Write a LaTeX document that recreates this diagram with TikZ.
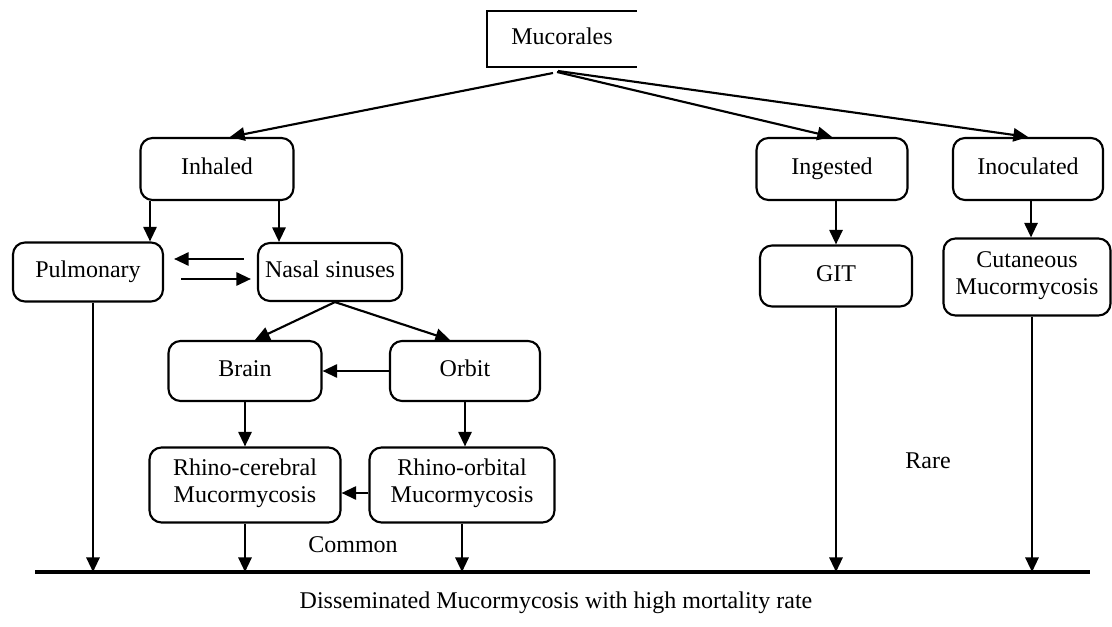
\documentclass[tikz,border=0pt]{standalone}
\usepackage{fontspec}
\setmainfont{Liberation Serif}
\usepackage{tikz}
\usetikzlibrary{shapes,arrows.meta}

\tikzset{%
  box/.style={draw, line width=1.6pt, rounded corners=9pt, align=center,
    inner sep=2pt, font=\fontsize{18}{20}\selectfont, execute at begin node=\strut},
  link/.style={line width=1.6pt, -{Triangle[length=11pt,width=10pt]}},
  lbl/.style={font=\fontsize{18}{20}\selectfont, execute at begin node=\strut}
}

\begin{document}
\begin{tikzpicture}[x=0.75pt, y=-0.75pt]
  \useasboundingbox (0,0) rectangle (1112,627);
  % top
  \node[lbl, minimum width=111.75pt, minimum height=42pt] (muc) at (562,39) {Mucorales};
  \draw[line width=1.3pt] (muc.north east) -- (muc.north west) -- (muc.south west) -- (muc.south east);
  \coordinate (mucout) at (553,73);
  % routes
  \node[box, minimum width=114.75pt, minimum height=46.5pt] (inh) at (217,169) {Inhaled};
  \node[box, minimum width=113.25pt, minimum height=46.5pt] (ing) at (832,169) {Ingested};
  \node[box, minimum width=112.5pt, minimum height=46.5pt] (ino) at (1028,169) {Inoculated};
  % second row
  \node[box, minimum width=112.5pt, minimum height=44.25pt] (pul) at (88,272) {Pulmonary};
  \node[box, minimum width=108pt, minimum height=43.5pt] (nas) at (330,272) {Nasal sinuses};
  \node[box, minimum width=114pt, minimum height=45.75pt] (git) at (836,276) {GIT};
  \node[box, minimum width=125.25pt, minimum height=57.75pt] (cut) at (1027,277) {Cutaneous\\Mucormycosis};
  % nasal branch
  \node[box, minimum width=114.75pt, minimum height=45pt] (bra) at (245,371) {Brain};
  \node[box, minimum width=112.5pt, minimum height=45pt] (orb) at (465,371) {Orbit};
  \node[box, minimum width=143.25pt, minimum height=56.25pt] (rce) at (245,485) {Rhino-cerebral\\Mucormycosis};
  \node[box, minimum width=138.75pt, minimum height=56.25pt] (ror) at (462,485) {Rhino-orbital\\Mucormycosis};
  % labels
  \node[lbl] (common) at (353,547) {Common};
  \node[lbl] (rare) at (928,463) {Rare};
  \coordinate (baseL) at (35,572);
  \coordinate (baseR) at (1090,572);
  \node[lbl] (dis) at (556,603) {Disseminated Mucormycosis with high mortality rate};

  \draw[line width=2.4pt] (baseL) -- (baseR);
  % connectors
  \draw[link] (mucout) -- ([xshift=9.75pt]inh.north);
  \draw[link] ([shift={(4,-1)}]mucout) -- (ing.north);
  \draw[link] ([shift={(5,-2)}]mucout) -- (ino.north);
  \draw[link] ([xshift=-50.25pt]inh.south) -- ([xshift=-50.25pt]inh.south |- pul.north);
  \draw[link] ([xshift=46.5pt]inh.south) -- ([xshift=46.5pt]inh.south |- nas.north);
  \draw[link] ([shift={(-13,-13)}]nas.west) -- ([shift={(10,-13)}]pul.east);
  \draw[link] ([shift={(17,7)}]pul.east) -- ([shift={(-6,7)}]nas.west);
  \draw[link] ([xshift=3.75pt]nas.south) -- ([xshift=7.5pt]bra.north);
  \draw[link] ([xshift=3.75pt]nas.south) -- ([xshift=-11.25pt]orb.north);
  \draw[link] (orb.west) -- (bra.east);
  \draw[link] (bra.south) -- (rce.north);
  \draw[link] (orb.south) -- (orb.south |- ror.north);
  \draw[link] ([shift={(0,8)}]ror.west) -- ([shift={(0,8)}]rce.east);
  \draw[link] (git.north |- ing.south) -- (git.north);
  \draw[link] ([xshift=2.25pt]ino.south) -- ([xshift=2.25pt]ino.south |- cut.north);
  % to the base line
  \draw[link] ([shift={(5,0)}]pul.south) -- ([shift={(5,0)}]pul.south |- baseL);
  \draw[link] (rce.south) -- (rce.south |- baseL);
  \draw[link] (ror.south) -- (ror.south |- baseL);
  \draw[link] (git.south) -- (git.south |- baseL);
  \draw[link] ([xshift=3.75pt]cut.south) -- ([xshift=3.75pt]cut.south |- baseL);
\end{tikzpicture}
\end{document}
